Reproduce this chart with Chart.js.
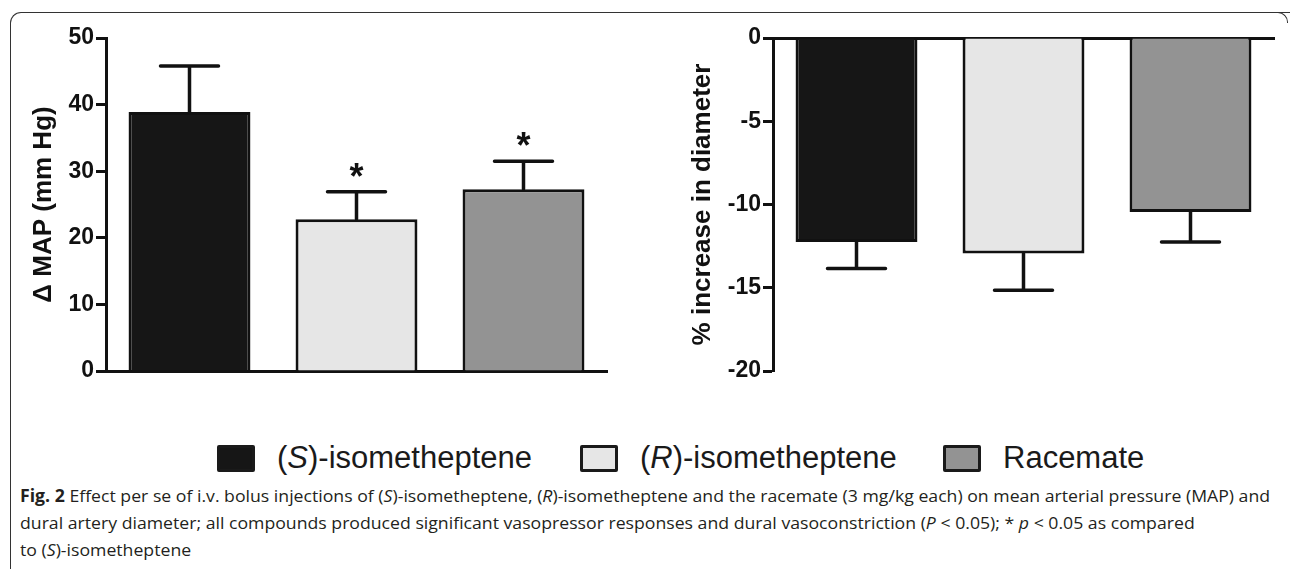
<!DOCTYPE html>
<html>
<head>
<meta charset="utf-8">
<script src="https://cdn.jsdelivr.net/npm/chart.js@4.4.1/dist/chart.umd.min.js"></script>
<style>
  body { margin: 0; background: #fff; width: 1290px; height: 569px; overflow: hidden; position: relative; font-family: "Liberation Sans", Arial, sans-serif; }
  #frame { position: absolute; left: 10px; top: 12px; width: 1300px; height: 600px; border-top: 1.5px solid #333; border-left: 1.5px solid #333; border-top-left-radius: 11px; }
  #corner { position: absolute; left: 1277px; top: 12px; width: 10px; height: 10px; border-top: 1.5px solid #333; border-right: 1.5px solid #333; border-top-right-radius: 10px; }
  .wrap { position: absolute; top: 0; height: 400px; }
  .leg { position: absolute; top: 445px; }
  .sq { position: absolute; width: 38px; height: 27px; box-sizing: border-box; border: 3px solid #1a1a1a; border-radius: 2px; }
  .lt { position: absolute; top: -3px; left: 60px; font-size: 31px; line-height: 31px; color: #1a1a1a; white-space: nowrap; }
  .cap { position: absolute; left: 20px; font-family: "Open Sans", sans-serif; font-size: 17px; color: #231f20; white-space: nowrap; transform-origin: 0 50%; }
</style>
</head>
<body>
<div id="frame"></div>
<div id="corner"></div>
<div class="wrap" style="left:0;width:650px"><canvas id="map" width="650" height="400"></canvas></div>
<div class="wrap" style="left:650px;width:640px"><canvas id="diam" width="640" height="400"></canvas></div>
<div id="legend"></div>
<div class="cap" id="c1" style="top:484px"><b>Fig. 2</b> Effect per se of i.v. bolus injections of (<i>S</i>)-isometheptene, (<i>R</i>)-isometheptene and the racemate (3 mg/kg each) on mean arterial pressure (MAP) and</div>
<div class="cap" id="c2" style="top:511px">dural artery diameter; all compounds produced significant vasopressor responses and dural vasoconstriction (<i>P</i> &lt; 0.05); * <i>p</i> &lt; 0.05 as compared</div>
<div class="cap" id="c3" style="top:538px">to (<i>S</i>)-isometheptene</div>

<script>
// groups (legend order)
const groups = ["(S)-isometheptene", "(R)-isometheptene", "Racemate"];
const colors = ["#161616", "#e6e6e6", "#939393"];

// left panel: change in MAP (mm Hg), mean and SEM
const mapMean = [38.9, 22.8, 27.3];
const mapSem = [6.9, 4.1, 4.2];
const mapStars = ["", "*", "*"];
const mapTicks = [0, 10, 20, 30, 40, 50];

// right panel: % increase in diameter, mean and SEM
const diamMean = [-12.25, -12.95, -10.45];
const diamSem = [1.6, 2.2, 1.8];
const diamTicks = [-20, -15, -10, -5, 0];

const ink = "#111";
const tickFont = { family: "'Liberation Sans', Arial, sans-serif", size: 23, weight: "bold" };
const titleFont = { family: "'Liberation Sans', Arial, sans-serif", size: 26, weight: "bold" };

// one-sided error bars + significance marks
const errorBars = {
  id: "errorBars",
  afterDatasetsDraw(chart, args, opts) {
    const ctx = chart.ctx;
    const y = chart.scales.y;
    const ds = chart.data.datasets[0];
    const meta = chart.getDatasetMeta(0);
    ctx.save();
    ctx.strokeStyle = ink;
    ctx.fillStyle = ink;
    ctx.lineWidth = 3.5;
    ctx.lineCap = "round";
    meta.data.forEach((bar, i) => {
      const v = ds.data[i];
      const end = v + Math.sign(v) * opts.sem[i];
      const y0 = y.getPixelForValue(v);
      const y1 = y.getPixelForValue(end);
      ctx.beginPath();
      ctx.moveTo(bar.x, y0);
      ctx.lineTo(bar.x, y1);
      ctx.moveTo(bar.x - 29, y1);
      ctx.lineTo(bar.x + 29, y1);
      ctx.stroke();
      if (opts.marks && opts.marks[i]) {
        ctx.font = "bold 36px 'Liberation Sans', Arial, sans-serif";
        ctx.textAlign = "center";
        ctx.textBaseline = "alphabetic";
        ctx.fillText(opts.marks[i], bar.x, y1 - 3);
      }
    });
    ctx.restore();
  },
};

function panel(canvas, mean, sem, marks, ticks, title, axisW, titlePad, pad, xPos) {
  return new Chart(canvas, {
    type: "bar",
    data: {
      labels: groups,
      datasets: [{
        data: mean,
        backgroundColor: colors,
        borderColor: ink,
        borderWidth: 3,
        barPercentage: 0.73,
        categoryPercentage: 1,
      }],
    },
    options: {
      responsive: false,
      animation: false,
      layout: { padding: pad },
      plugins: {
        legend: { display: false },
        tooltip: { enabled: false },
        errorBars: { sem: sem, marks: marks },
      },
      scales: {
        x: {
          position: xPos,
          ticks: { display: false },
          grid: { display: false },
          border: { display: true, width: 3, color: ink },
          afterFit: (s) => { s.height = 0; },
        },
        y: {
          min: ticks[0],
          max: ticks[ticks.length - 1],
          afterBuildTicks: (s) => { s.ticks = ticks.map((v) => ({ value: v })); },
          ticks: { font: tickFont, color: ink, padding: 2 },
          grid: { drawOnChartArea: false, drawTicks: true, tickLength: 10, tickWidth: 3, tickColor: ink },
          border: { display: true, width: 3, color: ink },
          title: { display: true, text: title, font: titleFont, color: ink, padding: { top: titlePad, bottom: 0 } },
          afterFit: (s) => { s.width = axisW; },
        },
      },
    },
    plugins: [errorBars],
  });
}

panel(document.getElementById("map"), mapMean, mapSem, mapStars, mapTicks,
  "\u0394 MAP (mm Hg)", 106, 28, { top: 38, bottom: 29, left: 0, right: 43 }, "bottom");
panel(document.getElementById("diam"), diamMean, diamSem, null, diamTicks,
  "% increase in diameter", 123, 37, { top: 38, bottom: 29, left: 0, right: 16 }, "top");

// legend below the panels
const legX = [217, 580, 943];
const legend = document.getElementById("legend");
groups.forEach((g, i) => {
  const item = document.createElement("div");
  item.className = "leg";
  item.style.left = legX[i] + "px";
  const sq = document.createElement("div");
  sq.className = "sq";
  sq.style.background = colors[i];
  const t = document.createElement("div");
  t.className = "lt";
  const m = g.match(/^\((\w)\)(.*)$/);
  t.innerHTML = m ? "(<i>" + m[1] + "</i>)" + m[2] : g;
  item.appendChild(sq);
  item.appendChild(t);
  legend.appendChild(item);
});

// caption squeezed to the condensed width of the original
const c1 = document.getElementById("c1");
const k = 1250 / c1.offsetWidth;
["c1", "c2", "c3"].forEach((id) => {
  document.getElementById(id).style.transform = "scaleX(" + k + ")";
});
</script>
</body>
</html>
